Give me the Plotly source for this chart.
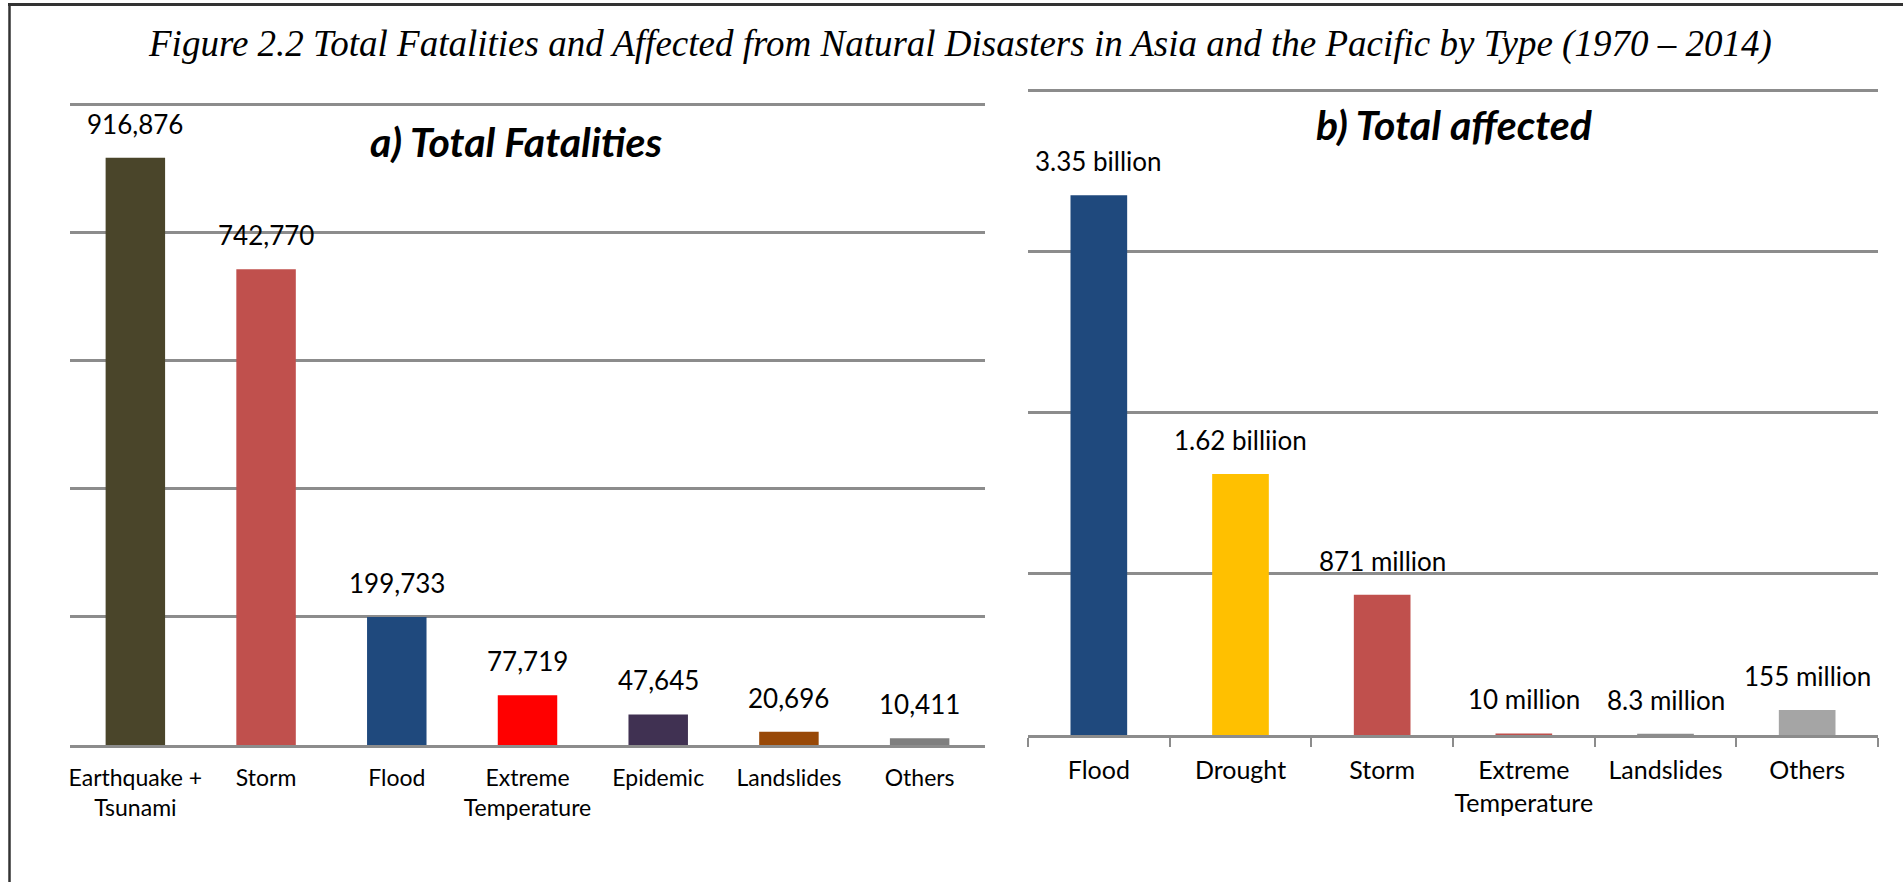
import plotly.graph_objects as go

# ---- data -------------------------------------------------------------
fatality_types = ["Earthquake +<br>Tsunami", "Storm", "Flood", "Extreme<br>Temperature",
                  "Epidemic", "Landslides", "Others"]
fatality_values = [916876, 742770, 199733, 77719, 47645, 20696, 10411]
fatality_labels = ["916,876", "742,770", "199,733", "77,719", "47,645", "20,696", "10,411"]
fatality_colors = ["#4A452A", "#C0504D", "#1F497D", "#FF0000", "#403152", "#984807", "#7F7F7F"]

affected_types = ["Flood", "Drought", "Storm", "Extreme<br>Temperature", "Landslides", "Others"]
affected_values = [3.35e9, 1.62e9, 871e6, 10e6, 8.3e6, 155e6]
affected_labels = ["3.35 billion", "1.62 billiion", "871 million", "10 million",
                   "8.3 million", "155 million"]
affected_colors = ["#1F497D", "#FFC000", "#C0504D", "#C0504D", "#8C8C8C", "#A5A5A5"]

# ---- page geometry (pixels) -------------------------------------------
W, H = 1903, 882
def px(x):
    return x / W
def py(y):
    return 1 - y / H

GRID = "#8c8c8c"
FONT = "Lato"

# plot areas: baseline pixel, pixel of the top gridline, top gridline value
L_BASE, L_TOPGRID, L_MAX = 745.0, 104.5, 1_000_000
R_BASE, R_TOPGRID, R_MAX = 735.0, 90.5, 4e9
PAD = 1.006  # small headroom so the top gridline is drawn

def top_pixel(base, topgrid):
    return base - (base - topgrid) * PAD

fig = go.Figure()
fig.add_trace(go.Bar(x=fatality_types, y=fatality_values, marker_color=fatality_colors,
                     marker_line_width=0, width=0.455, xaxis="x", yaxis="y",
                     hoverinfo="x+y"))
fig.add_trace(go.Bar(x=affected_types, y=affected_values, marker_color=affected_colors,
                     marker_line_width=0, width=0.40, xaxis="x2", yaxis="y2",
                     hoverinfo="x+y"))

annotations = []
for cat, val, lab in zip(fatality_types, fatality_values, fatality_labels):
    annotations.append(dict(x=cat, y=val, xref="x", yref="y", text=lab, showarrow=False,
                            yanchor="middle", yshift=34,
                            font=dict(family=FONT, size=26, color="#000000")))
for cat, val, lab in zip(affected_types, affected_values, affected_labels):
    annotations.append(dict(x=cat, y=val, xref="x2", yref="y2", text=lab, showarrow=False,
                            yanchor="middle", yshift=34,
                            font=dict(family=FONT, size=26, color="#000000")))

annotations += [
    dict(x=px(960), y=py(44), xref="paper", yref="paper", showarrow=False,
         text="<i>Figure 2.2 Total Fatalities and Affected from Natural Disasters in Asia "
              "and the Pacific by Type (1970 – 2014)</i>",
         font=dict(family="Liberation Serif", size=37, color="#000000"),
         xanchor="center", yanchor="middle"),
    dict(x=px(516), y=py(141), xref="paper", yref="paper", showarrow=False,
         text="<b><i>a) Total Fatalities</i></b>",
         font=dict(family=FONT, size=41, color="#000000"),
         xanchor="center", yanchor="middle"),
    dict(x=px(1454), y=py(125), xref="paper", yref="paper", showarrow=False,
         text="<b><i>b) Total affected</i></b>",
         font=dict(family=FONT, size=41, color="#000000"),
         xanchor="center", yanchor="middle"),
]

# frame lines along the top and left edges
shapes = [
    dict(type="line", xref="paper", yref="paper", x0=px(8), x1=1, y0=py(4.5), y1=py(4.5),
         line=dict(color="#333333", width=3)),
    dict(type="line", xref="paper", yref="paper", x0=px(9.5), x1=px(9.5), y0=py(3), y1=0,
         line=dict(color="#333333", width=2.5)),
]

fig.update_layout(
    width=W, height=H,
    margin=dict(l=0, r=0, t=0, b=0),
    paper_bgcolor="white", plot_bgcolor="white",
    showlegend=False,
    bargap=0.5,
    font=dict(family=FONT, color="#000000"),
    annotations=annotations,
    shapes=shapes,
    xaxis=dict(domain=[px(70), px(985)], anchor="y", showgrid=False,
               showline=True, linecolor=GRID, linewidth=3, ticks="",
               ticklabelstandoff=10, tickangle=0,
               tickfont=dict(family=FONT, size=23, color="#000000"),
               fixedrange=True),
    yaxis=dict(domain=[py(L_BASE), py(top_pixel(L_BASE, L_TOPGRID))], anchor="x",
               range=[0, L_MAX * PAD], dtick=200_000,
               showgrid=True, gridcolor=GRID, gridwidth=3, zeroline=False,
               showticklabels=False, ticks="", fixedrange=True),
    xaxis2=dict(domain=[px(1028), px(1878)], anchor="y2", showgrid=False,
                showline=True, linecolor=GRID, linewidth=3,
                ticks="outside", tickson="boundaries", ticklen=9, tickwidth=2,
                tickcolor=GRID, ticklabelstandoff=11, tickangle=0,
                tickfont=dict(family=FONT, size=25, color="#000000"),
                fixedrange=True),
    yaxis2=dict(domain=[py(R_BASE), py(top_pixel(R_BASE, R_TOPGRID))], anchor="x2",
                range=[0, R_MAX * PAD], dtick=1e9,
                showgrid=True, gridcolor=GRID, gridwidth=3, zeroline=False,
                showticklabels=False, ticks="", fixedrange=True),
)

fig.write_html("out.html")
